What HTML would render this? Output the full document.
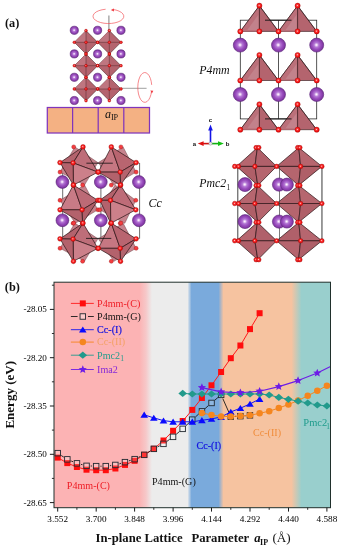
<!DOCTYPE html>
<html><head><meta charset="utf-8"><title>Figure</title>
<style>html,body{margin:0;padding:0;background:#fff;overflow:hidden}svg{display:block;will-change:transform}text{font-family:"Liberation Serif",serif}.ss{font-family:"Liberation Sans",sans-serif}</style>
</head><body>
<svg width="340" height="550" viewBox="0 0 340 550">
<defs>
<radialGradient id="gp" cx="0.48" cy="0.49" r="0.54"><stop offset="0" stop-color="#ffffff"/><stop offset="0.1" stop-color="#f0d8f8"/><stop offset="0.3" stop-color="#b479d4"/><stop offset="0.58" stop-color="#9a4dbe"/><stop offset="0.86" stop-color="#8238a4"/><stop offset="1" stop-color="#6e2b8c"/></radialGradient>
<radialGradient id="gr" cx="0.45" cy="0.45" r="0.6"><stop offset="0" stop-color="#ffd0d0"/><stop offset="0.3" stop-color="#fb3a3a"/><stop offset="0.7" stop-color="#f20d0d"/><stop offset="1" stop-color="#d40606"/></radialGradient>
<linearGradient id="bg" x1="0" x2="1" y1="0" y2="0">
<stop offset="0.0000" stop-color="#fcb3b4"/>
<stop offset="0.3092" stop-color="#fcb3b4"/>
<stop offset="0.3327" stop-color="#f6c8c9"/>
<stop offset="0.3544" stop-color="#ececec"/>
<stop offset="0.4828" stop-color="#ececec"/>
<stop offset="0.4973" stop-color="#7aaadc"/>
<stop offset="0.5949" stop-color="#7aaadc"/>
<stop offset="0.6130" stop-color="#f6c3a0"/>
<stop offset="0.8590" stop-color="#f6c3a0"/>
<stop offset="0.8951" stop-color="#99cfcd"/>
<stop offset="1.0000" stop-color="#99cfcd"/>
</linearGradient>
<clipPath id="cp"><rect x="54" y="282.2" width="276.5" height="225.5"/></clipPath>
</defs>
<rect width="340" height="550" fill="#fff"/>
<text x="5" y="26.8" font-size="12.3" font-weight="bold" fill="#111">(a)</text>
<line x1="108.9" y1="15.4" x2="108.9" y2="31.0" stroke="#8c8c8c" stroke-width="1.1" />
<line x1="121.0" y1="88.3" x2="146.6" y2="88.3" stroke="#777" stroke-width="0.7" />
<polygon points="86.0,30.6 97.7,42.3 86.0,54.0 74.3,42.3" fill="#b4646e" stroke="#3a1a1e" stroke-width="0.5" stroke-linejoin="round" />
<polygon points="86.0,30.6 86.0,42.3 74.3,42.3" fill="#bf7680" stroke="none" stroke-width="0" stroke-linejoin="round" />
<line x1="74.3" y1="42.3" x2="97.7" y2="42.3" stroke="#4a2226" stroke-width="0.45" />
<line x1="86.0" y1="30.6" x2="86.0" y2="54.0" stroke="#4a2226" stroke-width="0.45" />
<polygon points="109.3,30.6 121.0,42.3 109.3,54.0 97.6,42.3" fill="#b4646e" stroke="#3a1a1e" stroke-width="0.5" stroke-linejoin="round" />
<polygon points="109.3,30.6 109.3,42.3 97.6,42.3" fill="#bf7680" stroke="none" stroke-width="0" stroke-linejoin="round" />
<line x1="97.6" y1="42.3" x2="121.0" y2="42.3" stroke="#4a2226" stroke-width="0.45" />
<line x1="109.3" y1="30.6" x2="109.3" y2="54.0" stroke="#4a2226" stroke-width="0.45" />
<polygon points="86.0,54.0 97.7,65.7 86.0,77.4 74.3,65.7" fill="#b4646e" stroke="#3a1a1e" stroke-width="0.5" stroke-linejoin="round" />
<polygon points="86.0,54.0 86.0,65.7 74.3,65.7" fill="#bf7680" stroke="none" stroke-width="0" stroke-linejoin="round" />
<line x1="74.3" y1="65.7" x2="97.7" y2="65.7" stroke="#4a2226" stroke-width="0.45" />
<line x1="86.0" y1="54.0" x2="86.0" y2="77.4" stroke="#4a2226" stroke-width="0.45" />
<polygon points="109.3,54.0 121.0,65.7 109.3,77.4 97.6,65.7" fill="#b4646e" stroke="#3a1a1e" stroke-width="0.5" stroke-linejoin="round" />
<polygon points="109.3,54.0 109.3,65.7 97.6,65.7" fill="#bf7680" stroke="none" stroke-width="0" stroke-linejoin="round" />
<line x1="97.6" y1="65.7" x2="121.0" y2="65.7" stroke="#4a2226" stroke-width="0.45" />
<line x1="109.3" y1="54.0" x2="109.3" y2="77.4" stroke="#4a2226" stroke-width="0.45" />
<polygon points="86.0,77.3 97.7,89.0 86.0,100.7 74.3,89.0" fill="#b4646e" stroke="#3a1a1e" stroke-width="0.5" stroke-linejoin="round" />
<polygon points="86.0,77.3 86.0,89.0 74.3,89.0" fill="#bf7680" stroke="none" stroke-width="0" stroke-linejoin="round" />
<line x1="74.3" y1="89.0" x2="97.7" y2="89.0" stroke="#4a2226" stroke-width="0.45" />
<line x1="86.0" y1="77.3" x2="86.0" y2="100.7" stroke="#4a2226" stroke-width="0.45" />
<polygon points="109.3,77.3 121.0,89.0 109.3,100.7 97.6,89.0" fill="#b4646e" stroke="#3a1a1e" stroke-width="0.5" stroke-linejoin="round" />
<polygon points="109.3,77.3 109.3,89.0 97.6,89.0" fill="#bf7680" stroke="none" stroke-width="0" stroke-linejoin="round" />
<line x1="97.6" y1="89.0" x2="121.0" y2="89.0" stroke="#4a2226" stroke-width="0.45" />
<line x1="109.3" y1="77.3" x2="109.3" y2="100.7" stroke="#4a2226" stroke-width="0.45" />
<circle cx="86.0" cy="30.6" r="1.4" fill="url(#gr)" stroke="#a00d0d" stroke-width="0.4"/>
<circle cx="86.0" cy="54.0" r="1.4" fill="url(#gr)" stroke="#a00d0d" stroke-width="0.4"/>
<circle cx="74.3" cy="42.3" r="1.4" fill="url(#gr)" stroke="#a00d0d" stroke-width="0.4"/>
<circle cx="97.7" cy="42.3" r="1.4" fill="url(#gr)" stroke="#a00d0d" stroke-width="0.4"/>
<circle cx="86.0" cy="42.3" r="1.4" fill="url(#gr)" stroke="#a00d0d" stroke-width="0.4"/>
<circle cx="109.3" cy="30.6" r="1.4" fill="url(#gr)" stroke="#a00d0d" stroke-width="0.4"/>
<circle cx="109.3" cy="54.0" r="1.4" fill="url(#gr)" stroke="#a00d0d" stroke-width="0.4"/>
<circle cx="97.6" cy="42.3" r="1.4" fill="url(#gr)" stroke="#a00d0d" stroke-width="0.4"/>
<circle cx="121.0" cy="42.3" r="1.4" fill="url(#gr)" stroke="#a00d0d" stroke-width="0.4"/>
<circle cx="109.3" cy="42.3" r="1.4" fill="url(#gr)" stroke="#a00d0d" stroke-width="0.4"/>
<circle cx="86.0" cy="54.0" r="1.4" fill="url(#gr)" stroke="#a00d0d" stroke-width="0.4"/>
<circle cx="86.0" cy="77.4" r="1.4" fill="url(#gr)" stroke="#a00d0d" stroke-width="0.4"/>
<circle cx="74.3" cy="65.7" r="1.4" fill="url(#gr)" stroke="#a00d0d" stroke-width="0.4"/>
<circle cx="97.7" cy="65.7" r="1.4" fill="url(#gr)" stroke="#a00d0d" stroke-width="0.4"/>
<circle cx="86.0" cy="65.7" r="1.4" fill="url(#gr)" stroke="#a00d0d" stroke-width="0.4"/>
<circle cx="109.3" cy="54.0" r="1.4" fill="url(#gr)" stroke="#a00d0d" stroke-width="0.4"/>
<circle cx="109.3" cy="77.4" r="1.4" fill="url(#gr)" stroke="#a00d0d" stroke-width="0.4"/>
<circle cx="97.6" cy="65.7" r="1.4" fill="url(#gr)" stroke="#a00d0d" stroke-width="0.4"/>
<circle cx="121.0" cy="65.7" r="1.4" fill="url(#gr)" stroke="#a00d0d" stroke-width="0.4"/>
<circle cx="109.3" cy="65.7" r="1.4" fill="url(#gr)" stroke="#a00d0d" stroke-width="0.4"/>
<circle cx="86.0" cy="77.3" r="1.4" fill="url(#gr)" stroke="#a00d0d" stroke-width="0.4"/>
<circle cx="86.0" cy="100.7" r="1.4" fill="url(#gr)" stroke="#a00d0d" stroke-width="0.4"/>
<circle cx="74.3" cy="89.0" r="1.4" fill="url(#gr)" stroke="#a00d0d" stroke-width="0.4"/>
<circle cx="97.7" cy="89.0" r="1.4" fill="url(#gr)" stroke="#a00d0d" stroke-width="0.4"/>
<circle cx="86.0" cy="89.0" r="1.4" fill="url(#gr)" stroke="#a00d0d" stroke-width="0.4"/>
<circle cx="109.3" cy="77.3" r="1.4" fill="url(#gr)" stroke="#a00d0d" stroke-width="0.4"/>
<circle cx="109.3" cy="100.7" r="1.4" fill="url(#gr)" stroke="#a00d0d" stroke-width="0.4"/>
<circle cx="97.6" cy="89.0" r="1.4" fill="url(#gr)" stroke="#a00d0d" stroke-width="0.4"/>
<circle cx="121.0" cy="89.0" r="1.4" fill="url(#gr)" stroke="#a00d0d" stroke-width="0.4"/>
<circle cx="109.3" cy="89.0" r="1.4" fill="url(#gr)" stroke="#a00d0d" stroke-width="0.4"/>
<circle cx="74.3" cy="30.3" r="4.1" fill="url(#gp)" stroke="#5a2478" stroke-width="0.6"/>
<circle cx="97.6" cy="30.3" r="4.1" fill="url(#gp)" stroke="#5a2478" stroke-width="0.6"/>
<circle cx="121.0" cy="30.3" r="4.1" fill="url(#gp)" stroke="#5a2478" stroke-width="0.6"/>
<circle cx="74.3" cy="53.9" r="4.1" fill="url(#gp)" stroke="#5a2478" stroke-width="0.6"/>
<circle cx="97.6" cy="53.9" r="4.1" fill="url(#gp)" stroke="#5a2478" stroke-width="0.6"/>
<circle cx="121.0" cy="53.9" r="4.1" fill="url(#gp)" stroke="#5a2478" stroke-width="0.6"/>
<circle cx="74.3" cy="77.3" r="4.1" fill="url(#gp)" stroke="#5a2478" stroke-width="0.6"/>
<circle cx="97.6" cy="77.3" r="4.1" fill="url(#gp)" stroke="#5a2478" stroke-width="0.6"/>
<circle cx="121.0" cy="77.3" r="4.1" fill="url(#gp)" stroke="#5a2478" stroke-width="0.6"/>
<circle cx="74.3" cy="100.5" r="4.1" fill="url(#gp)" stroke="#5a2478" stroke-width="0.6"/>
<circle cx="97.6" cy="100.5" r="4.1" fill="url(#gp)" stroke="#5a2478" stroke-width="0.6"/>
<circle cx="121.0" cy="100.5" r="4.1" fill="url(#gp)" stroke="#5a2478" stroke-width="0.6"/>
<path d="M112.6,9.4 A15.4,7.2 0 1 1 105.6,9.25" fill="none" stroke="#f2555a" stroke-width="0.7"/>
<polygon points="110.8,10.0 114.0,8.4 113.9,11.4" fill="#f03a40"/>
<path d="M151.7,84.9 A7,14.9 0 1 0 151.6,91" fill="none" stroke="#f2555a" stroke-width="0.7"/>
<polygon points="151.9,93.4 150.4,90.6 153.3,90.7" fill="#f03a40"/>
<rect x="47.3" y="107.5" width="102.2" height="25.5" fill="#f4b183" stroke="#8035bb" stroke-width="1.25"/>
<line x1="72.6" y1="107.5" x2="72.6" y2="133.0" stroke="#8035bb" stroke-width="1.25" />
<line x1="98.2" y1="107.5" x2="98.2" y2="133.0" stroke="#8035bb" stroke-width="1.25" />
<line x1="123.8" y1="107.5" x2="123.8" y2="133.0" stroke="#8035bb" stroke-width="1.25" />
<text x="105.1" y="117.5" font-size="12" font-style="italic" fill="#111">a</text>
<text x="110.9" y="119.8" font-size="8.2" fill="#111">IP</text>
<rect x="240.3" y="20.2" width="76.4" height="98.7" fill="none" stroke="#2b2b2b" stroke-width="0.8"/>
<line x1="278.5" y1="20.2" x2="278.5" y2="118.9" stroke="#2b2b2b" stroke-width="0.8" />
<polygon points="259.4,5.7 278.5,31.4 240.3,31.4" fill="#b4646e" stroke="#2a1214" stroke-width="0.6" stroke-linejoin="round" />
<polygon points="259.4,5.7 259.4,31.4 240.3,31.4" fill="#bb707a" stroke="none" stroke-width="0" stroke-linejoin="round" />
<polygon points="258.4,14.7 258.4,29.9 247.3,29.9" fill="#c2828b" stroke="none" stroke-width="0" stroke-linejoin="round" />
<line x1="259.4" y1="5.7" x2="259.4" y2="31.4" stroke="#2a1214" stroke-width="0.7" />
<line x1="259.4" y1="5.7" x2="240.3" y2="31.4" stroke="#2a1214" stroke-width="0.6" />
<line x1="259.4" y1="5.7" x2="278.5" y2="31.4" stroke="#2a1214" stroke-width="0.6" />
<polygon points="297.6,5.7 316.7,31.4 278.5,31.4" fill="#b4646e" stroke="#2a1214" stroke-width="0.6" stroke-linejoin="round" />
<polygon points="297.6,5.7 297.6,31.4 278.5,31.4" fill="#bb707a" stroke="none" stroke-width="0" stroke-linejoin="round" />
<polygon points="296.6,14.7 296.6,29.9 285.5,29.9" fill="#c2828b" stroke="none" stroke-width="0" stroke-linejoin="round" />
<line x1="297.6" y1="5.7" x2="297.6" y2="31.4" stroke="#2a1214" stroke-width="0.7" />
<line x1="297.6" y1="5.7" x2="278.5" y2="31.4" stroke="#2a1214" stroke-width="0.6" />
<line x1="297.6" y1="5.7" x2="316.7" y2="31.4" stroke="#2a1214" stroke-width="0.6" />
<polygon points="259.4,55.0 278.5,80.5 240.3,80.5" fill="#b4646e" stroke="#2a1214" stroke-width="0.6" stroke-linejoin="round" />
<polygon points="259.4,55.0 259.4,80.5 240.3,80.5" fill="#bb707a" stroke="none" stroke-width="0" stroke-linejoin="round" />
<polygon points="258.4,64.0 258.4,79.0 247.3,79.0" fill="#c2828b" stroke="none" stroke-width="0" stroke-linejoin="round" />
<line x1="259.4" y1="55.0" x2="259.4" y2="80.5" stroke="#2a1214" stroke-width="0.7" />
<line x1="259.4" y1="55.0" x2="240.3" y2="80.5" stroke="#2a1214" stroke-width="0.6" />
<line x1="259.4" y1="55.0" x2="278.5" y2="80.5" stroke="#2a1214" stroke-width="0.6" />
<polygon points="297.6,55.0 316.7,80.5 278.5,80.5" fill="#b4646e" stroke="#2a1214" stroke-width="0.6" stroke-linejoin="round" />
<polygon points="297.6,55.0 297.6,80.5 278.5,80.5" fill="#bb707a" stroke="none" stroke-width="0" stroke-linejoin="round" />
<polygon points="296.6,64.0 296.6,79.0 285.5,79.0" fill="#c2828b" stroke="none" stroke-width="0" stroke-linejoin="round" />
<line x1="297.6" y1="55.0" x2="297.6" y2="80.5" stroke="#2a1214" stroke-width="0.7" />
<line x1="297.6" y1="55.0" x2="278.5" y2="80.5" stroke="#2a1214" stroke-width="0.6" />
<line x1="297.6" y1="55.0" x2="316.7" y2="80.5" stroke="#2a1214" stroke-width="0.6" />
<polygon points="259.4,104.3 278.5,129.7 240.3,129.7" fill="#b4646e" stroke="#2a1214" stroke-width="0.6" stroke-linejoin="round" />
<polygon points="259.4,104.3 259.4,129.7 240.3,129.7" fill="#bb707a" stroke="none" stroke-width="0" stroke-linejoin="round" />
<polygon points="258.4,113.3 258.4,128.2 247.3,128.2" fill="#c2828b" stroke="none" stroke-width="0" stroke-linejoin="round" />
<line x1="259.4" y1="104.3" x2="259.4" y2="129.7" stroke="#2a1214" stroke-width="0.7" />
<line x1="259.4" y1="104.3" x2="240.3" y2="129.7" stroke="#2a1214" stroke-width="0.6" />
<line x1="259.4" y1="104.3" x2="278.5" y2="129.7" stroke="#2a1214" stroke-width="0.6" />
<polygon points="297.6,104.3 316.7,129.7 278.5,129.7" fill="#b4646e" stroke="#2a1214" stroke-width="0.6" stroke-linejoin="round" />
<polygon points="297.6,104.3 297.6,129.7 278.5,129.7" fill="#bb707a" stroke="none" stroke-width="0" stroke-linejoin="round" />
<polygon points="296.6,113.3 296.6,128.2 285.5,128.2" fill="#c2828b" stroke="none" stroke-width="0" stroke-linejoin="round" />
<line x1="297.6" y1="104.3" x2="297.6" y2="129.7" stroke="#2a1214" stroke-width="0.7" />
<line x1="297.6" y1="104.3" x2="278.5" y2="129.7" stroke="#2a1214" stroke-width="0.6" />
<line x1="297.6" y1="104.3" x2="316.7" y2="129.7" stroke="#2a1214" stroke-width="0.6" />
<line x1="265.0" y1="20.2" x2="291.5" y2="20.2" stroke="#111" stroke-width="0.9" />
<line x1="265.0" y1="118.9" x2="291.5" y2="118.9" stroke="#111" stroke-width="0.9" />
<circle cx="240.3" cy="31.4" r="2.6" fill="url(#gr)" stroke="#a00d0d" stroke-width="0.4"/>
<circle cx="259.4" cy="31.4" r="2.6" fill="url(#gr)" stroke="#a00d0d" stroke-width="0.4"/>
<circle cx="278.5" cy="31.4" r="2.6" fill="url(#gr)" stroke="#a00d0d" stroke-width="0.4"/>
<circle cx="297.6" cy="31.4" r="2.6" fill="url(#gr)" stroke="#a00d0d" stroke-width="0.4"/>
<circle cx="316.7" cy="31.4" r="2.6" fill="url(#gr)" stroke="#a00d0d" stroke-width="0.4"/>
<circle cx="259.4" cy="5.7" r="2.6" fill="url(#gr)" stroke="#a00d0d" stroke-width="0.4"/>
<circle cx="297.6" cy="5.7" r="2.6" fill="url(#gr)" stroke="#a00d0d" stroke-width="0.4"/>
<circle cx="240.3" cy="80.5" r="2.6" fill="url(#gr)" stroke="#a00d0d" stroke-width="0.4"/>
<circle cx="259.4" cy="80.5" r="2.6" fill="url(#gr)" stroke="#a00d0d" stroke-width="0.4"/>
<circle cx="278.5" cy="80.5" r="2.6" fill="url(#gr)" stroke="#a00d0d" stroke-width="0.4"/>
<circle cx="297.6" cy="80.5" r="2.6" fill="url(#gr)" stroke="#a00d0d" stroke-width="0.4"/>
<circle cx="316.7" cy="80.5" r="2.6" fill="url(#gr)" stroke="#a00d0d" stroke-width="0.4"/>
<circle cx="259.4" cy="55.0" r="2.6" fill="url(#gr)" stroke="#a00d0d" stroke-width="0.4"/>
<circle cx="297.6" cy="55.0" r="2.6" fill="url(#gr)" stroke="#a00d0d" stroke-width="0.4"/>
<circle cx="240.3" cy="129.7" r="2.6" fill="url(#gr)" stroke="#a00d0d" stroke-width="0.4"/>
<circle cx="259.4" cy="129.7" r="2.6" fill="url(#gr)" stroke="#a00d0d" stroke-width="0.4"/>
<circle cx="278.5" cy="129.7" r="2.6" fill="url(#gr)" stroke="#a00d0d" stroke-width="0.4"/>
<circle cx="297.6" cy="129.7" r="2.6" fill="url(#gr)" stroke="#a00d0d" stroke-width="0.4"/>
<circle cx="316.7" cy="129.7" r="2.6" fill="url(#gr)" stroke="#a00d0d" stroke-width="0.4"/>
<circle cx="259.4" cy="104.3" r="2.6" fill="url(#gr)" stroke="#a00d0d" stroke-width="0.4"/>
<circle cx="297.6" cy="104.3" r="2.6" fill="url(#gr)" stroke="#a00d0d" stroke-width="0.4"/>
<circle cx="240.3" cy="45.1" r="7.0" fill="url(#gp)" stroke="#5a2478" stroke-width="0.6"/>
<circle cx="278.5" cy="45.1" r="7.0" fill="url(#gp)" stroke="#5a2478" stroke-width="0.6"/>
<circle cx="316.7" cy="45.1" r="7.0" fill="url(#gp)" stroke="#5a2478" stroke-width="0.6"/>
<circle cx="240.3" cy="94.5" r="7.0" fill="url(#gp)" stroke="#5a2478" stroke-width="0.6"/>
<circle cx="278.5" cy="94.5" r="7.0" fill="url(#gp)" stroke="#5a2478" stroke-width="0.6"/>
<circle cx="316.7" cy="94.5" r="7.0" fill="url(#gp)" stroke="#5a2478" stroke-width="0.6"/>
<text x="199.2" y="73.6" font-size="11.9" font-style="italic" fill="#111">P4mm</text>
<line x1="210.5" y1="143.6" x2="210.5" y2="129.0" stroke="#1414e6" stroke-width="1.6" />
<polygon points="210.5,124.6 208.2,130.5 212.8,130.5" fill="#1414e6"/>
<line x1="210.5" y1="143.6" x2="202.0" y2="143.6" stroke="#d01010" stroke-width="1.6" />
<polygon points="197.8,143.6 203.6,141.29999999999998 203.6,145.9" fill="#e01010"/>
<line x1="210.5" y1="143.6" x2="219.5" y2="143.6" stroke="#12b012" stroke-width="1.6" />
<polygon points="223.8,143.6 218,141.29999999999998 218,145.9" fill="#12c012"/>
<circle cx="210.5" cy="143.6" r="1.6" fill="#e8e8e8" stroke="#888" stroke-width="0.4"/>
<text class="ss" x="210.5" y="122.2" font-size="6" font-weight="bold" text-anchor="middle" fill="#111">c</text>
<text class="ss" x="194.4" y="145.6" font-size="6" font-weight="bold" text-anchor="middle" fill="#111">a</text>
<text class="ss" x="227.6" y="145.6" font-size="6" font-weight="bold" text-anchor="middle" fill="#111">b</text>
<line x1="62.7" y1="163.0" x2="62.7" y2="238.5" stroke="#3c3c3c" stroke-width="0.75" />
<line x1="100.9" y1="163.0" x2="100.9" y2="238.5" stroke="#3c3c3c" stroke-width="0.75" />
<line x1="139.6" y1="163.0" x2="139.6" y2="238.5" stroke="#3c3c3c" stroke-width="0.75" />
<line x1="62.7" y1="163.2" x2="139.6" y2="163.2" stroke="#444" stroke-width="0.5" />
<line x1="62.7" y1="238.4" x2="139.6" y2="238.4" stroke="#444" stroke-width="0.5" />
<polygon points="97.9,162.6 74.9,146.9 60.0,172.1 84.5,185.1" fill="#c6838d" stroke="#5a3035" stroke-width="0.4" stroke-linejoin="round" />
<polygon points="136.1,172.1 123.1,146.9 98.3,162.6 113.9,185.1" fill="#c6838d" stroke="#5a3035" stroke-width="0.4" stroke-linejoin="round" />
<polygon points="97.9,209.8 84.5,185.0 60.0,200.3 75.3,223.3" fill="#c6838d" stroke="#5a3035" stroke-width="0.4" stroke-linejoin="round" />
<polygon points="135.8,200.3 115.1,185.0 99.8,209.8 124.8,223.3" fill="#c6838d" stroke="#5a3035" stroke-width="0.4" stroke-linejoin="round" />
<polygon points="97.9,238.8 74.9,223.1 60.0,248.3 84.5,261.3" fill="#c6838d" stroke="#5a3035" stroke-width="0.4" stroke-linejoin="round" />
<polygon points="136.1,248.3 123.1,223.1 98.3,238.8 113.9,261.3" fill="#c6838d" stroke="#5a3035" stroke-width="0.4" stroke-linejoin="round" />
<circle cx="73.7" cy="146.9" r="2.0" fill="#f53d40" stroke="#9c1414" stroke-width="0.4"/>
<circle cx="82.6" cy="185.1" r="2.0" fill="#f53d40" stroke="#9c1414" stroke-width="0.4"/>
<circle cx="60.0" cy="172.1" r="2.0" fill="#f53d40" stroke="#9c1414" stroke-width="0.4"/>
<circle cx="120.9" cy="146.9" r="2.0" fill="#f53d40" stroke="#9c1414" stroke-width="0.4"/>
<circle cx="111.3" cy="185.1" r="2.0" fill="#f53d40" stroke="#9c1414" stroke-width="0.4"/>
<circle cx="136.1" cy="172.1" r="2.0" fill="#f53d40" stroke="#9c1414" stroke-width="0.4"/>
<circle cx="60.0" cy="200.3" r="2.0" fill="#f53d40" stroke="#9c1414" stroke-width="0.4"/>
<circle cx="73.1" cy="223.3" r="2.0" fill="#f53d40" stroke="#9c1414" stroke-width="0.4"/>
<circle cx="97.9" cy="209.8" r="2.0" fill="#f53d40" stroke="#9c1414" stroke-width="0.4"/>
<circle cx="135.8" cy="200.3" r="2.0" fill="#f53d40" stroke="#9c1414" stroke-width="0.4"/>
<circle cx="120.2" cy="223.3" r="2.0" fill="#f53d40" stroke="#9c1414" stroke-width="0.4"/>
<circle cx="99.8" cy="209.8" r="2.0" fill="#f53d40" stroke="#9c1414" stroke-width="0.4"/>
<circle cx="73.7" cy="223.1" r="2.0" fill="#f53d40" stroke="#9c1414" stroke-width="0.4"/>
<circle cx="82.6" cy="261.3" r="2.0" fill="#f53d40" stroke="#9c1414" stroke-width="0.4"/>
<circle cx="60.0" cy="248.3" r="2.0" fill="#f53d40" stroke="#9c1414" stroke-width="0.4"/>
<circle cx="120.9" cy="223.1" r="2.0" fill="#f53d40" stroke="#9c1414" stroke-width="0.4"/>
<circle cx="111.3" cy="261.3" r="2.0" fill="#f53d40" stroke="#9c1414" stroke-width="0.4"/>
<circle cx="136.1" cy="248.3" r="2.0" fill="#f53d40" stroke="#9c1414" stroke-width="0.4"/>
<polygon points="60.0,162.6 83.0,146.9 73.1,162.9" fill="#b3636d" stroke="#2a1214" stroke-width="0.7" stroke-linejoin="round" />
<polygon points="83.0,146.9 97.9,172.1 73.1,162.9" fill="#be6e79" stroke="#2a1214" stroke-width="0.7" stroke-linejoin="round" />
<polygon points="73.1,162.9 97.9,172.1 73.4,185.1" fill="#cc808a" stroke="#2a1214" stroke-width="0.7" stroke-linejoin="round" />
<polygon points="60.0,162.6 73.1,162.9 73.4,185.1" fill="#b3626c" stroke="#2a1214" stroke-width="0.7" stroke-linejoin="round" />
<polygon points="98.3,172.1 111.3,146.9 120.2,172.1" fill="#c67782" stroke="#2a1214" stroke-width="0.7" stroke-linejoin="round" />
<polygon points="111.3,146.9 136.1,162.6 120.2,172.1" fill="#b96570" stroke="#2a1214" stroke-width="0.7" stroke-linejoin="round" />
<polygon points="98.3,172.1 120.2,172.1 120.5,185.1" fill="#b3626c" stroke="#2a1214" stroke-width="0.7" stroke-linejoin="round" />
<polygon points="120.2,172.1 136.1,162.6 120.5,185.1" fill="#b4646e" stroke="#2a1214" stroke-width="0.7" stroke-linejoin="round" />
<polygon points="60.0,209.8 73.4,185.0 82.1,209.8" fill="#c87b86" stroke="#2a1214" stroke-width="0.7" stroke-linejoin="round" />
<polygon points="73.4,185.0 97.9,200.3 82.1,209.8" fill="#bc6a76" stroke="#2a1214" stroke-width="0.7" stroke-linejoin="round" />
<polygon points="60.0,209.8 82.1,209.8 82.6,223.3" fill="#b3626c" stroke="#2a1214" stroke-width="0.7" stroke-linejoin="round" />
<polygon points="82.1,209.8 97.9,200.3 82.6,223.3" fill="#b05f69" stroke="#2a1214" stroke-width="0.7" stroke-linejoin="round" />
<polygon points="99.8,200.3 120.5,185.0 110.5,200.3" fill="#b3626c" stroke="#2a1214" stroke-width="0.7" stroke-linejoin="round" />
<polygon points="120.5,185.0 135.8,209.8 110.5,200.3" fill="#be6c78" stroke="#2a1214" stroke-width="0.7" stroke-linejoin="round" />
<polygon points="99.8,200.3 110.5,200.3 110.8,223.3" fill="#b3626c" stroke="#2a1214" stroke-width="0.7" stroke-linejoin="round" />
<polygon points="110.5,200.3 135.8,209.8 110.8,223.3" fill="#cc808a" stroke="#2a1214" stroke-width="0.7" stroke-linejoin="round" />
<polygon points="60.0,238.8 83.0,223.1 73.1,239.1" fill="#b3636d" stroke="#2a1214" stroke-width="0.7" stroke-linejoin="round" />
<polygon points="83.0,223.1 97.9,248.3 73.1,239.1" fill="#be6e79" stroke="#2a1214" stroke-width="0.7" stroke-linejoin="round" />
<polygon points="73.1,239.1 97.9,248.3 73.4,261.3" fill="#cc808a" stroke="#2a1214" stroke-width="0.7" stroke-linejoin="round" />
<polygon points="60.0,238.8 73.1,239.1 73.4,261.3" fill="#b3626c" stroke="#2a1214" stroke-width="0.7" stroke-linejoin="round" />
<polygon points="98.3,248.3 111.3,223.1 120.2,248.3" fill="#c67782" stroke="#2a1214" stroke-width="0.7" stroke-linejoin="round" />
<polygon points="111.3,223.1 136.1,238.8 120.2,248.3" fill="#b96570" stroke="#2a1214" stroke-width="0.7" stroke-linejoin="round" />
<polygon points="98.3,248.3 120.2,248.3 120.5,261.3" fill="#b3626c" stroke="#2a1214" stroke-width="0.7" stroke-linejoin="round" />
<polygon points="120.2,248.3 136.1,238.8 120.5,261.3" fill="#b4646e" stroke="#2a1214" stroke-width="0.7" stroke-linejoin="round" />
<line x1="86.4" y1="163.2" x2="112.8" y2="163.2" stroke="#111" stroke-width="0.8" />
<line x1="86.0" y1="238.4" x2="111.3" y2="238.4" stroke="#111" stroke-width="0.8" />
<circle cx="83.0" cy="146.9" r="2.4" fill="url(#gr)" stroke="#a00d0d" stroke-width="0.4"/>
<circle cx="60.0" cy="162.6" r="2.4" fill="url(#gr)" stroke="#a00d0d" stroke-width="0.4"/>
<circle cx="73.1" cy="162.9" r="2.4" fill="url(#gr)" stroke="#a00d0d" stroke-width="0.4"/>
<circle cx="97.9" cy="172.1" r="2.4" fill="url(#gr)" stroke="#a00d0d" stroke-width="0.4"/>
<circle cx="73.4" cy="185.1" r="2.4" fill="url(#gr)" stroke="#a00d0d" stroke-width="0.4"/>
<circle cx="111.3" cy="146.9" r="2.4" fill="url(#gr)" stroke="#a00d0d" stroke-width="0.4"/>
<circle cx="98.3" cy="172.1" r="2.4" fill="url(#gr)" stroke="#a00d0d" stroke-width="0.4"/>
<circle cx="120.2" cy="172.1" r="2.4" fill="url(#gr)" stroke="#a00d0d" stroke-width="0.4"/>
<circle cx="136.1" cy="162.6" r="2.4" fill="url(#gr)" stroke="#a00d0d" stroke-width="0.4"/>
<circle cx="120.5" cy="185.1" r="2.4" fill="url(#gr)" stroke="#a00d0d" stroke-width="0.4"/>
<circle cx="73.4" cy="185.0" r="2.4" fill="url(#gr)" stroke="#a00d0d" stroke-width="0.4"/>
<circle cx="60.0" cy="209.8" r="2.4" fill="url(#gr)" stroke="#a00d0d" stroke-width="0.4"/>
<circle cx="82.1" cy="209.8" r="2.4" fill="url(#gr)" stroke="#a00d0d" stroke-width="0.4"/>
<circle cx="97.9" cy="200.3" r="2.4" fill="url(#gr)" stroke="#a00d0d" stroke-width="0.4"/>
<circle cx="82.6" cy="223.3" r="2.4" fill="url(#gr)" stroke="#a00d0d" stroke-width="0.4"/>
<circle cx="120.5" cy="185.0" r="2.4" fill="url(#gr)" stroke="#a00d0d" stroke-width="0.4"/>
<circle cx="99.8" cy="200.3" r="2.4" fill="url(#gr)" stroke="#a00d0d" stroke-width="0.4"/>
<circle cx="110.5" cy="200.3" r="2.4" fill="url(#gr)" stroke="#a00d0d" stroke-width="0.4"/>
<circle cx="135.8" cy="209.8" r="2.4" fill="url(#gr)" stroke="#a00d0d" stroke-width="0.4"/>
<circle cx="110.8" cy="223.3" r="2.4" fill="url(#gr)" stroke="#a00d0d" stroke-width="0.4"/>
<circle cx="83.0" cy="223.1" r="2.4" fill="url(#gr)" stroke="#a00d0d" stroke-width="0.4"/>
<circle cx="60.0" cy="238.8" r="2.4" fill="url(#gr)" stroke="#a00d0d" stroke-width="0.4"/>
<circle cx="73.1" cy="239.1" r="2.4" fill="url(#gr)" stroke="#a00d0d" stroke-width="0.4"/>
<circle cx="97.9" cy="248.3" r="2.4" fill="url(#gr)" stroke="#a00d0d" stroke-width="0.4"/>
<circle cx="73.4" cy="261.3" r="2.4" fill="url(#gr)" stroke="#a00d0d" stroke-width="0.4"/>
<circle cx="111.3" cy="223.1" r="2.4" fill="url(#gr)" stroke="#a00d0d" stroke-width="0.4"/>
<circle cx="98.3" cy="248.3" r="2.4" fill="url(#gr)" stroke="#a00d0d" stroke-width="0.4"/>
<circle cx="120.2" cy="248.3" r="2.4" fill="url(#gr)" stroke="#a00d0d" stroke-width="0.4"/>
<circle cx="136.1" cy="238.8" r="2.4" fill="url(#gr)" stroke="#a00d0d" stroke-width="0.4"/>
<circle cx="120.5" cy="261.3" r="2.4" fill="url(#gr)" stroke="#a00d0d" stroke-width="0.4"/>
<circle cx="62.4" cy="182.0" r="6.4" fill="url(#gp)" stroke="#5a2478" stroke-width="0.6"/>
<circle cx="100.8" cy="182.0" r="6.4" fill="url(#gp)" stroke="#5a2478" stroke-width="0.6"/>
<circle cx="138.9" cy="182.0" r="6.4" fill="url(#gp)" stroke="#5a2478" stroke-width="0.6"/>
<circle cx="62.4" cy="220.3" r="6.4" fill="url(#gp)" stroke="#5a2478" stroke-width="0.6"/>
<circle cx="100.8" cy="220.3" r="6.4" fill="url(#gp)" stroke="#5a2478" stroke-width="0.6"/>
<circle cx="138.9" cy="220.3" r="6.4" fill="url(#gp)" stroke="#5a2478" stroke-width="0.6"/>
<text x="148.6" y="207" font-size="12" font-style="italic" fill="#111">Cc</text>
<rect x="237.8" y="166.5" width="84.2" height="74.3" fill="none" stroke="#555" stroke-width="0.7"/>
<polygon points="236.6,166.4 257.4,147.6 254.9,166.4" fill="#b6666f" stroke="#2a1216" stroke-width="0.7" stroke-linejoin="round" />
<polygon points="257.4,147.6 276.6,166.4 254.9,166.4" fill="#b0606a" stroke="#2a1216" stroke-width="0.7" stroke-linejoin="round" />
<polygon points="236.6,166.4 254.9,166.4 257.8,185.4" fill="#af5f68" stroke="#2a1216" stroke-width="0.7" stroke-linejoin="round" />
<polygon points="254.9,166.4 276.6,166.4 257.8,185.4" fill="#b5656e" stroke="#2a1216" stroke-width="0.7" stroke-linejoin="round" />
<polygon points="276.6,166.4 298.8,147.6 300.6,166.4" fill="#b0606a" stroke="#2a1216" stroke-width="0.7" stroke-linejoin="round" />
<polygon points="298.8,147.6 321.9,166.4 300.6,166.4" fill="#b6666f" stroke="#2a1216" stroke-width="0.7" stroke-linejoin="round" />
<polygon points="276.6,166.4 300.6,166.4 298.6,185.4" fill="#b5656e" stroke="#2a1216" stroke-width="0.7" stroke-linejoin="round" />
<polygon points="300.6,166.4 321.9,166.4 298.6,185.4" fill="#af5f68" stroke="#2a1216" stroke-width="0.7" stroke-linejoin="round" />
<polygon points="236.6,203.5 257.4,185.4 254.9,203.5" fill="#b6666f" stroke="#2a1216" stroke-width="0.7" stroke-linejoin="round" />
<polygon points="257.4,185.4 276.6,203.5 254.9,203.5" fill="#b0606a" stroke="#2a1216" stroke-width="0.7" stroke-linejoin="round" />
<polygon points="236.6,203.5 254.9,203.5 257.8,222.3" fill="#af5f68" stroke="#2a1216" stroke-width="0.7" stroke-linejoin="round" />
<polygon points="254.9,203.5 276.6,203.5 257.8,222.3" fill="#b5656e" stroke="#2a1216" stroke-width="0.7" stroke-linejoin="round" />
<polygon points="276.6,203.5 298.8,185.4 300.6,203.5" fill="#b0606a" stroke="#2a1216" stroke-width="0.7" stroke-linejoin="round" />
<polygon points="298.8,185.4 321.9,203.5 300.6,203.5" fill="#b6666f" stroke="#2a1216" stroke-width="0.7" stroke-linejoin="round" />
<polygon points="276.6,203.5 300.6,203.5 298.6,222.3" fill="#b5656e" stroke="#2a1216" stroke-width="0.7" stroke-linejoin="round" />
<polygon points="300.6,203.5 321.9,203.5 298.6,222.3" fill="#af5f68" stroke="#2a1216" stroke-width="0.7" stroke-linejoin="round" />
<polygon points="236.6,240.8 257.4,222.3 254.9,240.8" fill="#b6666f" stroke="#2a1216" stroke-width="0.7" stroke-linejoin="round" />
<polygon points="257.4,222.3 276.6,240.8 254.9,240.8" fill="#b0606a" stroke="#2a1216" stroke-width="0.7" stroke-linejoin="round" />
<polygon points="236.6,240.8 254.9,240.8 257.8,259.7" fill="#af5f68" stroke="#2a1216" stroke-width="0.7" stroke-linejoin="round" />
<polygon points="254.9,240.8 276.6,240.8 257.8,259.7" fill="#b5656e" stroke="#2a1216" stroke-width="0.7" stroke-linejoin="round" />
<polygon points="276.6,240.8 298.8,222.3 300.6,240.8" fill="#b0606a" stroke="#2a1216" stroke-width="0.7" stroke-linejoin="round" />
<polygon points="298.8,222.3 321.9,240.8 300.6,240.8" fill="#b6666f" stroke="#2a1216" stroke-width="0.7" stroke-linejoin="round" />
<polygon points="276.6,240.8 300.6,240.8 298.6,259.7" fill="#b5656e" stroke="#2a1216" stroke-width="0.7" stroke-linejoin="round" />
<polygon points="300.6,240.8 321.9,240.8 298.6,259.7" fill="#af5f68" stroke="#2a1216" stroke-width="0.7" stroke-linejoin="round" />
<line x1="279.5" y1="166.5" x2="279.5" y2="240.8" stroke="#444" stroke-width="0.7" />
<line x1="237.8" y1="166.5" x2="237.8" y2="240.8" stroke="#555" stroke-width="0.7" />
<line x1="321.9" y1="166.5" x2="321.9" y2="240.8" stroke="#555" stroke-width="0.7" />
<circle cx="234.7" cy="166.4" r="2.3" fill="url(#gr)" stroke="#a00d0d" stroke-width="0.4"/>
<circle cx="238.5" cy="166.4" r="2.3" fill="url(#gr)" stroke="#a00d0d" stroke-width="0.4"/>
<circle cx="254.9" cy="166.4" r="2.3" fill="url(#gr)" stroke="#a00d0d" stroke-width="0.4"/>
<circle cx="276.6" cy="166.4" r="2.3" fill="url(#gr)" stroke="#a00d0d" stroke-width="0.4"/>
<circle cx="300.6" cy="166.4" r="2.3" fill="url(#gr)" stroke="#a00d0d" stroke-width="0.4"/>
<circle cx="321.9" cy="166.4" r="2.3" fill="url(#gr)" stroke="#a00d0d" stroke-width="0.4"/>
<circle cx="234.7" cy="203.5" r="2.3" fill="url(#gr)" stroke="#a00d0d" stroke-width="0.4"/>
<circle cx="238.5" cy="203.5" r="2.3" fill="url(#gr)" stroke="#a00d0d" stroke-width="0.4"/>
<circle cx="254.9" cy="203.5" r="2.3" fill="url(#gr)" stroke="#a00d0d" stroke-width="0.4"/>
<circle cx="276.6" cy="203.5" r="2.3" fill="url(#gr)" stroke="#a00d0d" stroke-width="0.4"/>
<circle cx="300.6" cy="203.5" r="2.3" fill="url(#gr)" stroke="#a00d0d" stroke-width="0.4"/>
<circle cx="321.9" cy="203.5" r="2.3" fill="url(#gr)" stroke="#a00d0d" stroke-width="0.4"/>
<circle cx="234.7" cy="240.8" r="2.3" fill="url(#gr)" stroke="#a00d0d" stroke-width="0.4"/>
<circle cx="238.5" cy="240.8" r="2.3" fill="url(#gr)" stroke="#a00d0d" stroke-width="0.4"/>
<circle cx="254.9" cy="240.8" r="2.3" fill="url(#gr)" stroke="#a00d0d" stroke-width="0.4"/>
<circle cx="276.6" cy="240.8" r="2.3" fill="url(#gr)" stroke="#a00d0d" stroke-width="0.4"/>
<circle cx="300.6" cy="240.8" r="2.3" fill="url(#gr)" stroke="#a00d0d" stroke-width="0.4"/>
<circle cx="321.9" cy="240.8" r="2.3" fill="url(#gr)" stroke="#a00d0d" stroke-width="0.4"/>
<circle cx="256.1" cy="147.6" r="2.3" fill="url(#gr)" stroke="#a00d0d" stroke-width="0.4"/>
<circle cx="258.8" cy="147.6" r="2.3" fill="url(#gr)" stroke="#a00d0d" stroke-width="0.4"/>
<circle cx="297.7" cy="147.6" r="2.3" fill="url(#gr)" stroke="#a00d0d" stroke-width="0.4"/>
<circle cx="299.9" cy="147.6" r="2.3" fill="url(#gr)" stroke="#a00d0d" stroke-width="0.4"/>
<circle cx="256.1" cy="185.4" r="2.3" fill="url(#gr)" stroke="#a00d0d" stroke-width="0.4"/>
<circle cx="258.8" cy="185.4" r="2.3" fill="url(#gr)" stroke="#a00d0d" stroke-width="0.4"/>
<circle cx="297.7" cy="185.4" r="2.3" fill="url(#gr)" stroke="#a00d0d" stroke-width="0.4"/>
<circle cx="299.9" cy="185.4" r="2.3" fill="url(#gr)" stroke="#a00d0d" stroke-width="0.4"/>
<circle cx="256.1" cy="222.3" r="2.3" fill="url(#gr)" stroke="#a00d0d" stroke-width="0.4"/>
<circle cx="258.8" cy="222.3" r="2.3" fill="url(#gr)" stroke="#a00d0d" stroke-width="0.4"/>
<circle cx="297.7" cy="222.3" r="2.3" fill="url(#gr)" stroke="#a00d0d" stroke-width="0.4"/>
<circle cx="299.9" cy="222.3" r="2.3" fill="url(#gr)" stroke="#a00d0d" stroke-width="0.4"/>
<circle cx="256.1" cy="259.7" r="2.3" fill="url(#gr)" stroke="#a00d0d" stroke-width="0.4"/>
<circle cx="258.8" cy="259.7" r="2.3" fill="url(#gr)" stroke="#a00d0d" stroke-width="0.4"/>
<circle cx="297.7" cy="259.7" r="2.3" fill="url(#gr)" stroke="#a00d0d" stroke-width="0.4"/>
<circle cx="299.9" cy="259.7" r="2.3" fill="url(#gr)" stroke="#a00d0d" stroke-width="0.4"/>
<circle cx="245.0" cy="184.6" r="7.0" fill="url(#gp)" stroke="#5a2478" stroke-width="0.6"/>
<circle cx="279.0" cy="184.6" r="6.6" fill="url(#gp)" stroke="#5a2478" stroke-width="0.6"/>
<circle cx="286.9" cy="184.6" r="6.5" fill="url(#gp)" stroke="#5a2478" stroke-width="0.6"/>
<circle cx="245.0" cy="221.6" r="7.0" fill="url(#gp)" stroke="#5a2478" stroke-width="0.6"/>
<circle cx="279.0" cy="221.6" r="6.6" fill="url(#gp)" stroke="#5a2478" stroke-width="0.6"/>
<circle cx="286.9" cy="221.6" r="6.5" fill="url(#gp)" stroke="#5a2478" stroke-width="0.6"/>
<text x="199.2" y="187" font-size="11.8" font-style="italic" fill="#111">Pmc2</text>
<text x="226.6" y="189.6" font-size="7.2" fill="#111">1</text>
<text x="4.8" y="291.3" font-size="12.3" font-weight="bold" fill="#111">(b)</text>
<rect x="54" y="282.2" width="276.5" height="225.5" fill="url(#bg)"/>
<text x="66.8" y="489.4" font-size="10.1" fill="#ee1c24">P4mm-(C)</text>
<text x="152" y="485" font-size="10.1" fill="#111">P4mm-(G)</text>
<text x="196.5" y="448.9" font-size="10.1" fill="#1212e0" stroke="#1212e0" stroke-width="0.2">Cc-(I)</text>
<text x="253" y="435.7" font-size="10.1" fill="#f08c3a">Cc-(II)</text>
<text x="303.3" y="425.6" font-size="10.5" fill="#1f9c8c">Pmc2</text>
<text x="326.2" y="428.8" font-size="7.4" fill="#1f9c8c">1</text>
<g clip-path="url(#cp)">
<polyline points="57.7,457.6 67.3,463.1 76.9,467.0 86.5,469.7 96.2,470.2 105.8,470.2 115.4,468.5 125.0,464.9 134.6,460.8 144.2,454.8 153.8,448.8 163.5,440.5 173.1,430.8 182.7,421.0 192.3,409.9 201.9,398.0 211.5,385.3 221.1,372.0 230.8,358.2 240.4,345.5 250.0,329.1 259.6,313.2" fill="none" stroke="#ff1a1a" stroke-width="1.0" stroke-linejoin="round"/>
<rect x="54.7" y="454.6" width="6" height="6" fill="#ff0d0d"/>
<rect x="64.3" y="460.1" width="6" height="6" fill="#ff0d0d"/>
<rect x="73.9" y="464.0" width="6" height="6" fill="#ff0d0d"/>
<rect x="83.5" y="466.7" width="6" height="6" fill="#ff0d0d"/>
<rect x="93.2" y="467.2" width="6" height="6" fill="#ff0d0d"/>
<rect x="102.8" y="467.2" width="6" height="6" fill="#ff0d0d"/>
<rect x="112.4" y="465.5" width="6" height="6" fill="#ff0d0d"/>
<rect x="122.0" y="461.9" width="6" height="6" fill="#ff0d0d"/>
<rect x="131.6" y="457.8" width="6" height="6" fill="#ff0d0d"/>
<rect x="141.2" y="451.8" width="6" height="6" fill="#ff0d0d"/>
<rect x="150.8" y="445.8" width="6" height="6" fill="#ff0d0d"/>
<rect x="160.5" y="437.5" width="6" height="6" fill="#ff0d0d"/>
<rect x="170.1" y="427.8" width="6" height="6" fill="#ff0d0d"/>
<rect x="179.7" y="418.0" width="6" height="6" fill="#ff0d0d"/>
<rect x="189.3" y="406.9" width="6" height="6" fill="#ff0d0d"/>
<rect x="198.9" y="395.0" width="6" height="6" fill="#ff0d0d"/>
<rect x="208.5" y="382.3" width="6" height="6" fill="#ff0d0d"/>
<rect x="218.1" y="369.0" width="6" height="6" fill="#ff0d0d"/>
<rect x="227.8" y="355.2" width="6" height="6" fill="#ff0d0d"/>
<rect x="237.4" y="342.5" width="6" height="6" fill="#ff0d0d"/>
<rect x="247.0" y="326.1" width="6" height="6" fill="#ff0d0d"/>
<rect x="256.6" y="310.2" width="6" height="6" fill="#ff0d0d"/>
<line x1="61.2" y1="455.5" x2="63.8" y2="457.1" stroke="#1a1a1a" stroke-width="0.9" />
<line x1="71.2" y1="461.0" x2="73.0" y2="461.7" stroke="#1a1a1a" stroke-width="0.9" />
<line x1="81.0" y1="464.4" x2="82.5" y2="464.7" stroke="#1a1a1a" stroke-width="0.9" />
<line x1="90.7" y1="466.0" x2="92.0" y2="466.0" stroke="#1a1a1a" stroke-width="0.9" />
<line x1="100.4" y1="466.2" x2="101.6" y2="466.2" stroke="#1a1a1a" stroke-width="0.9" />
<line x1="109.9" y1="465.7" x2="111.2" y2="465.5" stroke="#1a1a1a" stroke-width="0.9" />
<line x1="119.4" y1="463.8" x2="121.0" y2="463.3" stroke="#1a1a1a" stroke-width="0.9" />
<line x1="129.0" y1="460.8" x2="130.6" y2="460.4" stroke="#1a1a1a" stroke-width="0.9" />
<line x1="138.4" y1="457.4" x2="140.4" y2="456.5" stroke="#1a1a1a" stroke-width="0.9" />
<line x1="147.8" y1="452.6" x2="150.3" y2="451.1" stroke="#1a1a1a" stroke-width="0.9" />
<line x1="157.6" y1="446.9" x2="159.7" y2="445.8" stroke="#1a1a1a" stroke-width="0.9" />
<line x1="166.9" y1="441.4" x2="169.7" y2="439.3" stroke="#1a1a1a" stroke-width="0.9" />
<line x1="176.3" y1="434.2" x2="179.5" y2="431.5" stroke="#1a1a1a" stroke-width="0.9" />
<line x1="185.7" y1="425.9" x2="189.3" y2="422.5" stroke="#1a1a1a" stroke-width="0.9" />
<line x1="195.5" y1="416.9" x2="198.7" y2="414.0" stroke="#1a1a1a" stroke-width="0.9" />
<line x1="205.1" y1="408.6" x2="208.3" y2="405.7" stroke="#1a1a1a" stroke-width="0.9" />
<line x1="214.7" y1="400.3" x2="217.9" y2="397.5" stroke="#1a1a1a" stroke-width="0.9" />
<line x1="222.8" y1="398.6" x2="229.1" y2="412.8" stroke="#1a1a1a" stroke-width="0.9" />
<line x1="234.9" y1="416.4" x2="236.2" y2="416.4" stroke="#1a1a1a" stroke-width="0.9" />
<line x1="244.6" y1="415.9" x2="245.8" y2="415.7" stroke="#1a1a1a" stroke-width="0.9" />
<rect x="55.0" y="450.4" width="5.5" height="5.5" fill="rgba(255,255,255,0.16)" stroke="#222830" stroke-width="0.9"/>
<rect x="64.6" y="456.6" width="5.5" height="5.5" fill="rgba(255,255,255,0.16)" stroke="#222830" stroke-width="0.9"/>
<rect x="74.2" y="460.6" width="5.5" height="5.5" fill="rgba(255,255,255,0.16)" stroke="#222830" stroke-width="0.9"/>
<rect x="83.8" y="463.1" width="5.5" height="5.5" fill="rgba(255,255,255,0.16)" stroke="#222830" stroke-width="0.9"/>
<rect x="93.4" y="463.4" width="5.5" height="5.5" fill="rgba(255,255,255,0.16)" stroke="#222830" stroke-width="0.9"/>
<rect x="103.0" y="463.4" width="5.5" height="5.5" fill="rgba(255,255,255,0.16)" stroke="#222830" stroke-width="0.9"/>
<rect x="112.6" y="462.2" width="5.5" height="5.5" fill="rgba(255,255,255,0.16)" stroke="#222830" stroke-width="0.9"/>
<rect x="122.2" y="459.4" width="5.5" height="5.5" fill="rgba(255,255,255,0.16)" stroke="#222830" stroke-width="0.9"/>
<rect x="131.9" y="456.4" width="5.5" height="5.5" fill="rgba(255,255,255,0.16)" stroke="#222830" stroke-width="0.9"/>
<rect x="141.5" y="452.1" width="5.5" height="5.5" fill="rgba(255,255,255,0.16)" stroke="#222830" stroke-width="0.9"/>
<rect x="151.1" y="446.1" width="5.5" height="5.5" fill="rgba(255,255,255,0.16)" stroke="#222830" stroke-width="0.9"/>
<rect x="160.7" y="441.1" width="5.5" height="5.5" fill="rgba(255,255,255,0.16)" stroke="#222830" stroke-width="0.9"/>
<rect x="170.3" y="434.1" width="5.5" height="5.5" fill="rgba(255,255,255,0.16)" stroke="#222830" stroke-width="0.9"/>
<rect x="179.9" y="426.1" width="5.5" height="5.5" fill="rgba(255,255,255,0.16)" stroke="#222830" stroke-width="0.9"/>
<rect x="189.5" y="416.9" width="5.5" height="5.5" fill="rgba(255,255,255,0.16)" stroke="#222830" stroke-width="0.9"/>
<rect x="199.2" y="408.6" width="5.5" height="5.5" fill="rgba(255,255,255,0.16)" stroke="#222830" stroke-width="0.9"/>
<rect x="208.8" y="400.2" width="5.5" height="5.5" fill="rgba(255,255,255,0.16)" stroke="#222830" stroke-width="0.9"/>
<rect x="218.4" y="392.1" width="5.5" height="5.5" fill="rgba(255,255,255,0.16)" stroke="#222830" stroke-width="0.9"/>
<rect x="228.0" y="413.9" width="5.5" height="5.5" fill="rgba(255,255,255,0.16)" stroke="#222830" stroke-width="0.9"/>
<rect x="237.6" y="413.4" width="5.5" height="5.5" fill="rgba(255,255,255,0.16)" stroke="#222830" stroke-width="0.9"/>
<rect x="247.2" y="412.6" width="5.5" height="5.5" fill="rgba(255,255,255,0.16)" stroke="#222830" stroke-width="0.9"/>
<polyline points="144.2,414.8 153.8,417.9 163.5,420.6 173.1,421.8 182.7,421.8 192.3,421.8 201.9,420.3 211.5,418.9 221.1,417.0 230.8,411.9 240.4,408.2 250.0,403.9 259.6,399.0" fill="none" stroke="#1414f0" stroke-width="1.0" stroke-linejoin="round"/>
<polygon points="144.2,411.6 140.4,417.7 148.0,417.7" fill="#0a0aff"/>
<polygon points="153.8,414.7 150.0,420.8 157.6,420.8" fill="#0a0aff"/>
<polygon points="163.5,417.4 159.7,423.5 167.3,423.5" fill="#0a0aff"/>
<polygon points="173.1,418.6 169.3,424.7 176.9,424.7" fill="#0a0aff"/>
<polygon points="182.7,418.6 178.9,424.7 186.5,424.7" fill="#0a0aff"/>
<polygon points="192.3,418.6 188.5,424.7 196.1,424.7" fill="#0a0aff"/>
<polygon points="201.9,417.1 198.1,423.2 205.7,423.2" fill="#0a0aff"/>
<polygon points="211.5,415.7 207.7,421.8 215.3,421.8" fill="#0a0aff"/>
<polygon points="221.1,413.8 217.3,419.9 224.9,419.9" fill="#0a0aff"/>
<polygon points="230.8,408.7 227.0,414.8 234.6,414.8" fill="#0a0aff"/>
<polygon points="240.4,405.0 236.6,411.1 244.2,411.1" fill="#0a0aff"/>
<polygon points="250.0,400.7 246.2,406.8 253.8,406.8" fill="#0a0aff"/>
<polygon points="259.6,395.8 255.8,401.9 263.4,401.9" fill="#0a0aff"/>
<polyline points="201.9,412.9 211.5,415.0 221.1,416.4 230.8,416.5 240.4,416.0 250.0,415.3 259.6,413.3 269.2,411.2 278.8,408.0 288.4,404.5 298.1,400.5 307.7,395.8 317.3,390.8 326.9,385.7" fill="none" stroke="#f5861f" stroke-width="1.0" stroke-linejoin="round"/>
<circle cx="201.9" cy="412.9" r="3.25" fill="#f5861f"/>
<circle cx="211.5" cy="415.0" r="3.25" fill="#f5861f"/>
<circle cx="221.1" cy="416.4" r="3.25" fill="#f5861f"/>
<circle cx="230.8" cy="416.5" r="3.25" fill="#f5861f"/>
<circle cx="240.4" cy="416.0" r="3.25" fill="#f5861f"/>
<circle cx="250.0" cy="415.3" r="3.25" fill="#f5861f"/>
<circle cx="259.6" cy="413.3" r="3.25" fill="#f5861f"/>
<circle cx="269.2" cy="411.2" r="3.25" fill="#f5861f"/>
<circle cx="278.8" cy="408.0" r="3.25" fill="#f5861f"/>
<circle cx="288.4" cy="404.5" r="3.25" fill="#f5861f"/>
<circle cx="298.1" cy="400.5" r="3.25" fill="#f5861f"/>
<circle cx="307.7" cy="395.8" r="3.25" fill="#f5861f"/>
<circle cx="317.3" cy="390.8" r="3.25" fill="#f5861f"/>
<circle cx="326.9" cy="385.7" r="3.25" fill="#f5861f"/>
<polyline points="182.7,393.4 192.3,394.0 201.9,394.0 211.5,394.0 221.1,394.0 230.8,394.0 240.4,394.0 250.0,394.0 259.6,393.9 269.2,395.0 278.8,397.4 288.4,399.3 298.1,401.2 307.7,403.0 317.3,405.0 326.9,405.9" fill="none" stroke="#229a8c" stroke-width="1.0" stroke-linejoin="round"/>
<polygon points="182.7,389.8 187.0,393.4 182.7,397.0 178.4,393.4" fill="#229a8c"/>
<polygon points="192.3,390.4 196.6,394.0 192.3,397.6 188.0,394.0" fill="#229a8c"/>
<polygon points="201.9,390.4 206.2,394.0 201.9,397.6 197.6,394.0" fill="#229a8c"/>
<polygon points="211.5,390.4 215.8,394.0 211.5,397.6 207.2,394.0" fill="#229a8c"/>
<polygon points="221.1,390.4 225.4,394.0 221.1,397.6 216.8,394.0" fill="#229a8c"/>
<polygon points="230.8,390.4 235.1,394.0 230.8,397.6 226.5,394.0" fill="#229a8c"/>
<polygon points="240.4,390.4 244.7,394.0 240.4,397.6 236.1,394.0" fill="#229a8c"/>
<polygon points="250.0,390.4 254.3,394.0 250.0,397.6 245.7,394.0" fill="#229a8c"/>
<polygon points="259.6,390.2 263.9,393.9 259.6,397.5 255.3,393.9" fill="#229a8c"/>
<polygon points="269.2,391.4 273.5,395.0 269.2,398.6 264.9,395.0" fill="#229a8c"/>
<polygon points="278.8,393.8 283.1,397.4 278.8,401.0 274.5,397.4" fill="#229a8c"/>
<polygon points="288.4,395.7 292.7,399.3 288.4,402.9 284.1,399.3" fill="#229a8c"/>
<polygon points="298.1,397.6 302.4,401.2 298.1,404.8 293.8,401.2" fill="#229a8c"/>
<polygon points="307.7,399.4 312.0,403.0 307.7,406.6 303.4,403.0" fill="#229a8c"/>
<polygon points="317.3,401.4 321.6,405.0 317.3,408.6 313.0,405.0" fill="#229a8c"/>
<polygon points="326.9,402.2 331.2,405.9 326.9,409.5 322.6,405.9" fill="#229a8c"/>
<polyline points="201.9,387.6 221.1,391.9 240.4,392.7 259.6,391.2 278.8,386.6 298.1,380.6 317.3,373.0 330.5,366.6" fill="none" stroke="#6d1ce6" stroke-width="1.1" stroke-linejoin="round"/>
<polygon points="201.91,383.30 203.06,386.02 206.00,386.27 203.76,388.20 204.44,391.08 201.91,389.55 199.38,391.08 200.06,388.20 197.82,386.27 200.76,386.02" fill="#6d1ce6"/>
<polygon points="221.14,387.60 222.28,390.32 225.23,390.57 222.99,392.50 223.67,395.38 221.14,393.85 218.61,395.38 219.28,392.50 217.05,390.57 219.99,390.32" fill="#6d1ce6"/>
<polygon points="240.37,388.40 241.51,391.12 244.46,391.37 242.22,393.30 242.89,396.18 240.37,394.65 237.84,396.18 238.51,393.30 236.28,391.37 239.22,391.12" fill="#6d1ce6"/>
<polygon points="259.59,386.90 260.74,389.62 263.68,389.87 261.45,391.80 262.12,394.68 259.59,393.15 257.07,394.68 257.74,391.80 255.50,389.87 258.45,389.62" fill="#6d1ce6"/>
<polygon points="278.82,382.30 279.97,385.02 282.91,385.27 280.68,387.20 281.35,390.08 278.82,388.55 276.29,390.08 276.97,387.20 274.73,385.27 277.68,385.02" fill="#6d1ce6"/>
<polygon points="298.05,376.30 299.20,379.02 302.14,379.27 299.90,381.20 300.58,384.08 298.05,382.55 295.52,384.08 296.20,381.20 293.96,379.27 296.90,379.02" fill="#6d1ce6"/>
<polygon points="317.28,368.70 318.42,371.42 321.37,371.67 319.13,373.60 319.81,376.48 317.28,374.95 314.75,376.48 315.42,373.60 313.19,371.67 316.13,371.42" fill="#6d1ce6"/>
</g>
<line x1="70.9" y1="303.4" x2="93.8" y2="303.4" stroke="#ff1a1a" stroke-width="0.9" />
<text x="97.1" y="306.7" font-size="10.1" fill="#ee1c24">P4mm-(C)</text>
<line x1="70.9" y1="316.5" x2="77.6" y2="316.5" stroke="#1a1a1a" stroke-width="0.9" />
<line x1="88.0" y1="316.5" x2="93.8" y2="316.5" stroke="#1a1a1a" stroke-width="0.9" />
<text x="97.1" y="319.8" font-size="10.1" fill="#111">P4mm-(G)</text>
<line x1="70.9" y1="329.7" x2="93.8" y2="329.7" stroke="#1414f0" stroke-width="0.9" />
<text x="97.1" y="333.0" font-size="10.1" fill="#1212e0" stroke="#1212e0" stroke-width="0.2">Cc-(I)</text>
<line x1="70.9" y1="342.1" x2="93.8" y2="342.1" stroke="#f5861f" stroke-width="0.9" />
<text x="97.1" y="345.4" font-size="10.1" fill="#f3a165">Cc-(II)</text>
<line x1="70.9" y1="355.2" x2="93.8" y2="355.2" stroke="#229a8c" stroke-width="0.9" />
<text x="97.1" y="358.5" font-size="10.1" fill="#1f9c8c">Pmc2</text>
<line x1="70.9" y1="369.5" x2="93.8" y2="369.5" stroke="#6d1ce6" stroke-width="0.9" />
<text x="97.1" y="372.8" font-size="10.1" fill="#8428d8">Ima2</text>
<rect x="79.8" y="300.4" width="6" height="6" fill="#ff0d0d"/>
<rect x="80.05" y="313.75" width="5.5" height="5.5" fill="rgba(255,255,255,0.3)" stroke="#222830" stroke-width="0.9"/>
<polygon points="82.8,326.5 79.0,332.6 86.6,332.6" fill="#0a0aff"/>
<circle cx="82.8" cy="342.1" r="3.25" fill="#f5861f"/>
<polygon points="82.8,351.6 87.1,355.2 82.8,358.8 78.5,355.2" fill="#229a8c"/>
<polygon points="82.80,365.20 83.95,367.92 86.89,368.17 84.65,370.10 85.33,372.98 82.80,371.45 80.27,372.98 80.95,370.10 78.71,368.17 81.65,367.92" fill="#6d1ce6"/>
<text x="120.3" y="361.3" font-size="7.6" fill="#1f9c8c">1</text>
<rect x="54" y="282.2" width="276.5" height="225.5" fill="none" stroke="#20302c" stroke-width="1"/>
<line x1="49.9" y1="309.4" x2="54.0" y2="309.4" stroke="#1a1a1a" stroke-width="1" />
<text x="46.9" y="312.3" font-size="9.1" text-anchor="end" fill="#000">-28.05</text>
<line x1="49.9" y1="357.7" x2="54.0" y2="357.7" stroke="#1a1a1a" stroke-width="1" />
<text x="46.9" y="360.6" font-size="9.1" text-anchor="end" fill="#000">-28.20</text>
<line x1="49.9" y1="406.0" x2="54.0" y2="406.0" stroke="#1a1a1a" stroke-width="1" />
<text x="46.9" y="408.9" font-size="9.1" text-anchor="end" fill="#000">-28.35</text>
<line x1="49.9" y1="454.3" x2="54.0" y2="454.3" stroke="#1a1a1a" stroke-width="1" />
<text x="46.9" y="457.2" font-size="9.1" text-anchor="end" fill="#000">-28.50</text>
<line x1="49.9" y1="502.6" x2="54.0" y2="502.6" stroke="#1a1a1a" stroke-width="1" />
<text x="46.9" y="505.5" font-size="9.1" text-anchor="end" fill="#000">-28.65</text>
<line x1="51.9" y1="285.2" x2="54.0" y2="285.2" stroke="#1a1a1a" stroke-width="0.9" />
<line x1="51.9" y1="333.5" x2="54.0" y2="333.5" stroke="#1a1a1a" stroke-width="0.9" />
<line x1="51.9" y1="381.8" x2="54.0" y2="381.8" stroke="#1a1a1a" stroke-width="0.9" />
<line x1="51.9" y1="430.1" x2="54.0" y2="430.1" stroke="#1a1a1a" stroke-width="0.9" />
<line x1="51.9" y1="478.4" x2="54.0" y2="478.4" stroke="#1a1a1a" stroke-width="0.9" />
<line x1="57.7" y1="507.7" x2="57.7" y2="511.6" stroke="#1a1a1a" stroke-width="1" />
<text x="57.7" y="522.4" font-size="9.2" text-anchor="middle" fill="#000">3.552</text>
<line x1="76.9" y1="507.7" x2="76.9" y2="509.8" stroke="#1a1a1a" stroke-width="0.9" />
<line x1="96.2" y1="507.7" x2="96.2" y2="511.6" stroke="#1a1a1a" stroke-width="1" />
<text x="96.2" y="522.4" font-size="9.2" text-anchor="middle" fill="#000">3.700</text>
<line x1="115.4" y1="507.7" x2="115.4" y2="509.8" stroke="#1a1a1a" stroke-width="0.9" />
<line x1="134.6" y1="507.7" x2="134.6" y2="511.6" stroke="#1a1a1a" stroke-width="1" />
<text x="134.6" y="522.4" font-size="9.2" text-anchor="middle" fill="#000">3.848</text>
<line x1="153.8" y1="507.7" x2="153.8" y2="509.8" stroke="#1a1a1a" stroke-width="0.9" />
<line x1="173.1" y1="507.7" x2="173.1" y2="511.6" stroke="#1a1a1a" stroke-width="1" />
<text x="173.1" y="522.4" font-size="9.2" text-anchor="middle" fill="#000">3.996</text>
<line x1="192.3" y1="507.7" x2="192.3" y2="509.8" stroke="#1a1a1a" stroke-width="0.9" />
<line x1="211.5" y1="507.7" x2="211.5" y2="511.6" stroke="#1a1a1a" stroke-width="1" />
<text x="211.5" y="522.4" font-size="9.2" text-anchor="middle" fill="#000">4.144</text>
<line x1="230.8" y1="507.7" x2="230.8" y2="509.8" stroke="#1a1a1a" stroke-width="0.9" />
<line x1="250.0" y1="507.7" x2="250.0" y2="511.6" stroke="#1a1a1a" stroke-width="1" />
<text x="250.0" y="522.4" font-size="9.2" text-anchor="middle" fill="#000">4.292</text>
<line x1="269.2" y1="507.7" x2="269.2" y2="509.8" stroke="#1a1a1a" stroke-width="0.9" />
<line x1="288.5" y1="507.7" x2="288.5" y2="511.6" stroke="#1a1a1a" stroke-width="1" />
<text x="288.5" y="522.4" font-size="9.2" text-anchor="middle" fill="#000">4.440</text>
<line x1="307.7" y1="507.7" x2="307.7" y2="509.8" stroke="#1a1a1a" stroke-width="0.9" />
<line x1="326.9" y1="507.7" x2="326.9" y2="511.6" stroke="#1a1a1a" stroke-width="1" />
<text x="326.9" y="522.4" font-size="9.2" text-anchor="middle" fill="#000">4.588</text>
<text transform="translate(14.4,394.8) rotate(-90)" font-size="13" font-weight="bold" text-anchor="middle" fill="#111">Energy (eV)</text>
<text x="95.5" y="541.9" font-size="12.7" font-weight="bold" fill="#111">In-plane Lattice</text>
<text x="191.4" y="541.9" font-size="12.7" font-weight="bold" fill="#111">Parameter</text>
<text x="254.2" y="541.9" font-size="12.7" font-weight="bold" font-style="italic" fill="#111">a</text>
<text x="260.1" y="544.6" font-size="8" font-weight="bold" fill="#111">IP</text>
<text x="272.4" y="541.9" font-size="13.2" fill="#111">(Å)</text>
</svg>
</body></html>
